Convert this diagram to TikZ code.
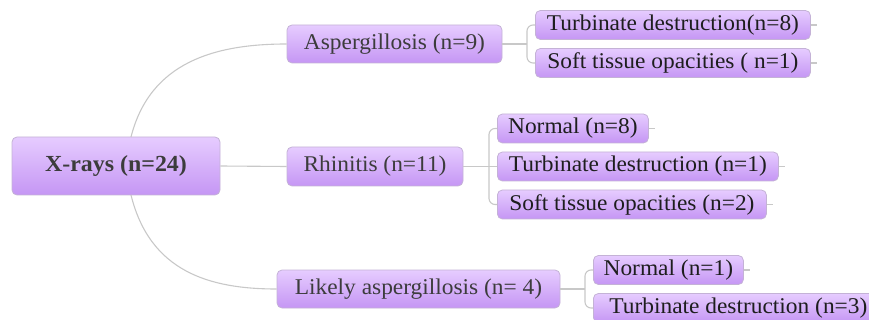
\documentclass[tikz,border=0pt]{standalone}
\usepackage{fontspec}
\setmainfont{Liberation Serif}[FakeStretch=1.04]
\definecolor{boxtop}{HTML}{E6CCFF}
\definecolor{boxbot}{HTML}{C596F4}
\definecolor{boxline}{HTML}{C4B2D6}
\definecolor{linkc}{HTML}{C8C8C8}
\definecolor{txtmid}{HTML}{3C3C3C}
\definecolor{txtleaf}{HTML}{1E1E1E}
\begin{document}
\begin{tikzpicture}[x=1pt,y=-1pt,
  mbox/.style={draw=boxline,line width=0.8pt,rounded corners=5pt,top color=boxtop,bottom color=boxbot,
    inner sep=0pt,font=\fontsize{22.5}{24}\selectfont,text=txtmid},
  leaf/.style={mbox,text=txtleaf,minimum height=29pt},
  link/.style={draw=linkc,line width=1.1pt},
  brk/.style={link,rounded corners=6pt}]
\useasboundingbox (0,0) rectangle (869,320);
\begin{scope}
\clip (0,0) rectangle (869,320);
% main nodes
\node[mbox,minimum width=208pt,minimum height=58pt,font=\fontsize{23}{24}\selectfont\bfseries] (root) at (116,166) {X-rays (n=24)};
\node[mbox,minimum width=215pt,minimum height=38pt] (asp) at (394.5,44) {Aspergillosis (n=9)};
\node[mbox,minimum width=176pt,minimum height=39pt] (rhin) at (375,166.5) {Rhinitis (n=11)};
\node[mbox,minimum width=283pt,minimum height=38pt] (lik) at (418.5,289) {Likely aspergillosis (n= 4)};
% leaves
\node[leaf,minimum width=275pt,anchor=west] (t8) at (535,25) {Turbinate destruction(n=8)};
\node[leaf,minimum width=275pt,anchor=west] (s1) at (535,63) {Soft tissue opacities ( n=1)};
\node[leaf,minimum width=151pt,anchor=west] (n8) at (497,128.5) {Normal (n=8)};
\node[leaf,minimum width=281pt,anchor=west] (t1) at (497,166.5) {Turbinate destruction (n=1)};
\node[leaf,minimum width=269pt,anchor=west] (s2) at (497,204.5) {Soft tissue opacities (n=2)};
\node[leaf,minimum width=150pt,anchor=west] (n1) at (593,270) {Normal (n=1)};
\node[leaf,minimum width=290pt,anchor=west] (t3) at (593,308) {Turbinate destruction (n=3)};
% root links
\draw[link] (131,137) .. controls (150,62) and (215,44) .. (asp.west);
\draw[link] (root.east) -- (rhin.west);
\draw[link] (131,195) .. controls (150,272) and (210,289) .. (lik.west);
% brackets
\coordinate (ba) at (527,44);
\draw[link] (asp.east) -- (ba);
\draw[brk] (t8.west) -| (ba) |- (s1.west);
\coordinate (br) at (489,166.5);
\draw[link] (rhin.east) -- (t1.west);
\draw[brk] (n8.west) -| (br) |- (s2.west);
\coordinate (bl) at (585,289);
\draw[link] (lik.east) -- (bl);
\draw[brk] (n1.west) -| (bl) |- (t3.west);
% stubs
\foreach \n in {t8,s1,n8,t1,s2,n1} \draw[link] (\n.east) -- ++(6,0);
\end{scope}
\end{tikzpicture}
\end{document}
